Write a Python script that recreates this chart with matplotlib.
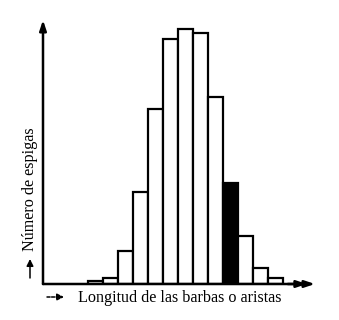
import matplotlib
matplotlib.use("Agg")
import matplotlib.pyplot as plt

# bar heights (arbitrary units)
counts = [3, 6, 33, 92, 175, 245, 255, 251, 187, 101, 48, 16, 6]
highlight = 9  # index of the black bar
first_bin = 3

W, H = 339, 320
fig = plt.figure(figsize=(W/100, H/100), dpi=100)
x0, x1 = 43, 315
y0, y1 = 284, 20
ax = fig.add_axes([x0/W, (H-y0)/H, (x1-x0)/W, (y0-y1)/H])
ax.set_xlim(0, (x1-x0)/15)
ax.set_ylim(0, y0-y1)
for s in ax.spines.values():
    s.set_visible(False)
ax.set_xticks([]); ax.set_yticks([])

for i, c in enumerate(counts):
    ax.bar(first_bin + i, c, width=1, align='edge',
           facecolor='black' if i == highlight else 'white',
           edgecolor='black', linewidth=1.6)

# axes with arrows
ax.annotate('', xy=(0, 1.0), xytext=(0, 0), xycoords='axes fraction',
            arrowprops=dict(arrowstyle='-|>,head_length=0.6,head_width=0.2', lw=1.8, color='black',
                            shrinkA=0, shrinkB=0), annotation_clip=False)
ax.annotate('', xy=(1.0, 0), xytext=(0, 0), xycoords='axes fraction',
            arrowprops=dict(arrowstyle='-|>,head_length=0.6,head_width=0.2', lw=1.8, color='black',
                            shrinkA=0, shrinkB=0), annotation_clip=False)
ax.annotate('', xy=(0.97, 0), xytext=(0.9, 0), xycoords='axes fraction',
            arrowprops=dict(arrowstyle='-|>,head_length=0.6,head_width=0.2', lw=1.8, color='black',
                            shrinkA=0, shrinkB=0), annotation_clip=False)

font = dict(family=['Liberation Serif', 'DejaVu Serif'], fontsize=11.6)
fig.text(30/W, 1-189/H, 'Número de espigas', rotation=90, ha='center', va='center', **font)
fig.text(78/W, 1-298/H, 'Longitud de las barbas o aristas', ha='left', va='center', **font)

# small arrows preceding the labels
fig.patches.append(matplotlib.patches.FancyArrowPatch(
    (30/W, 1-278/H), (30/W, 1-259/H), transform=fig.transFigure,
    arrowstyle='-|>,head_length=4,head_width=2', lw=1.1, color='black',
    shrinkA=0, shrinkB=0))
fig.patches.append(matplotlib.patches.FancyArrowPatch(
    (47/W, 1-297/H), (64/W, 1-297/H), transform=fig.transFigure,
    arrowstyle='-|>,head_length=4,head_width=2', lw=1.1, color='black',
    linestyle=(0, (2, 1)), shrinkA=0, shrinkB=0))

fig.savefig('out.png', dpi=100, facecolor='white')
